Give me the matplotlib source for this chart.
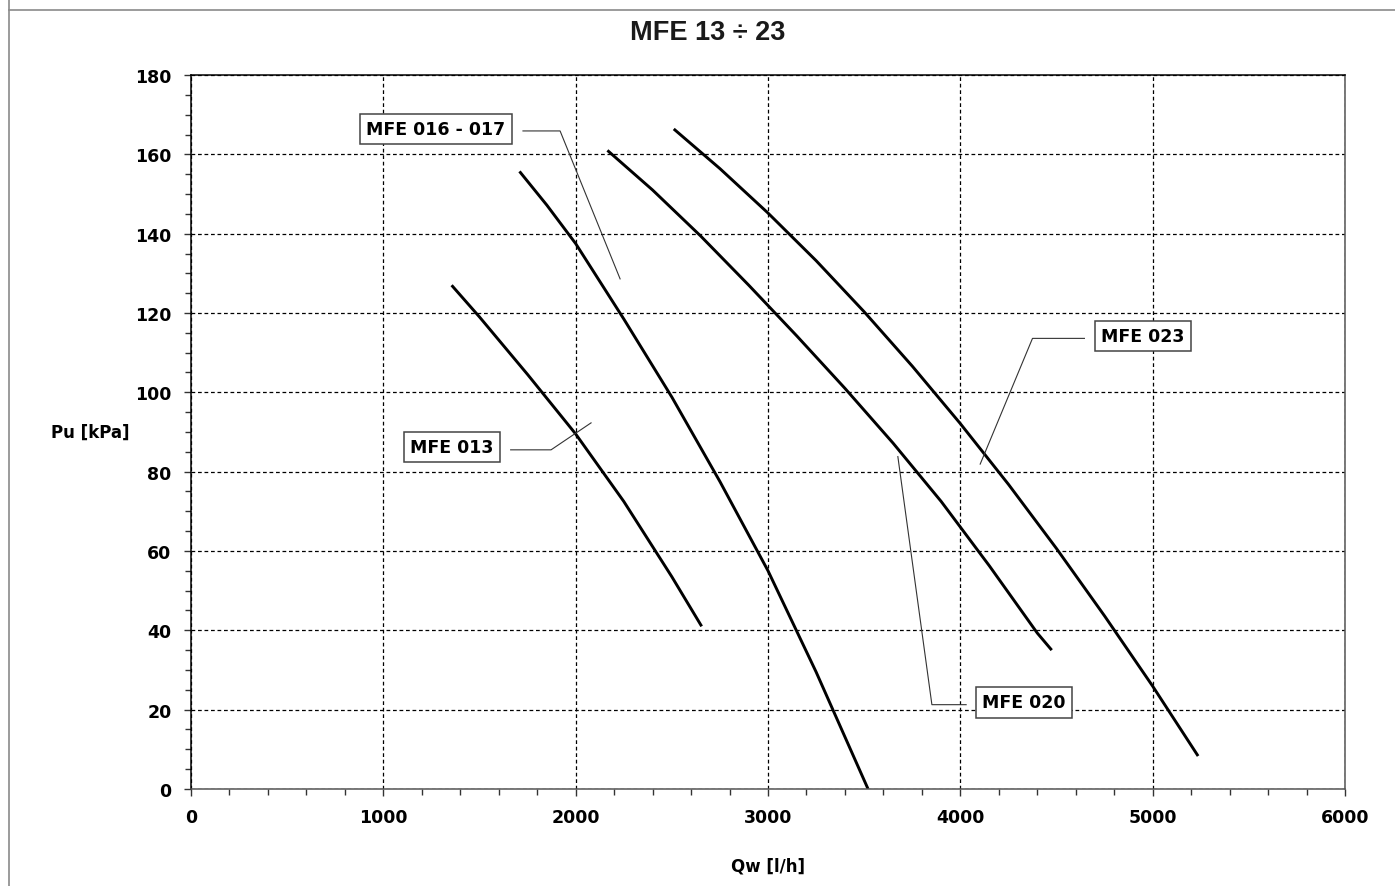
import matplotlib
matplotlib.use("Agg")
import matplotlib.pyplot as plt
from matplotlib.lines import Line2D
from matplotlib.ticker import MultipleLocator

# curves (Qw [l/h], Pu [kPa])
mfe013_q = [1355, 1500, 1750, 2000, 2250, 2500, 2655]
mfe013_p = [127, 119, 104.5, 89.5, 72.5, 53.5, 41]

mfe016_q = [1708, 1850, 2000, 2250, 2500, 2750, 3000, 3250, 3520]
mfe016_p = [155.7, 147.2, 137.5, 118.5, 98.8, 77.5, 55, 29.5, 0]

mfe020_q = [2165, 2400, 2650, 2900, 3150, 3400, 3650, 3900, 4150, 4400, 4475]
mfe020_p = [161, 151, 139.4, 127, 114.2, 101, 87.2, 72.5, 56.3, 39.3, 35]

mfe023_q = [2510, 2750, 3000, 3250, 3500, 3750, 4000, 4250, 4500, 4750, 5000, 5236]
mfe023_p = [166.4, 156.4, 145.2, 133.2, 120.3, 106.6, 92.1, 76.8, 60.6, 43.6, 25.9, 8.3]

x_ticks = [0, 1000, 2000, 3000, 4000, 5000, 6000]
y_ticks = [0, 20, 40, 60, 80, 100, 120, 140, 160, 180]

BOLD = dict(family="DejaVu Sans", fontweight="bold")

fig = plt.figure(figsize=(13.95, 8.87), dpi=100)
ax = fig.add_axes([0.1369, 0.1094, 0.8273, 0.8049])

for q, p in [(mfe013_q, mfe013_p), (mfe016_q, mfe016_p),
             (mfe020_q, mfe020_p), (mfe023_q, mfe023_p)]:
    ax.plot(q, p, color="black", linewidth=2.1, solid_capstyle="butt",
            solid_joinstyle="round")

ax.set_xlim(0, 6000)
ax.set_ylim(0, 180)
ax.set_xticks(x_ticks)
ax.set_yticks(y_ticks)
ax.xaxis.set_minor_locator(MultipleLocator(200))
ax.yaxis.set_minor_locator(MultipleLocator(5))
ax.tick_params(which="both", direction="out", color="#333333", width=1.0)
ax.tick_params(which="major", length=5, labelsize=12.5, pad=9)
ax.tick_params(which="minor", length=4)
for lbl in ax.get_xticklabels() + ax.get_yticklabels():
    lbl.set_fontweight("bold")

ax.grid(True, which="major", color="black", linewidth=0.9,
        linestyle=(0, (3, 2.2)))

for side, col in [("left", "black"), ("top", "black"),
                  ("bottom", "#555555"), ("right", "#555555")]:
    ax.spines[side].set_color(col)
    ax.spines[side].set_linewidth(1.1)

ax.set_xlabel("Qw [l/h]", fontsize=12, **BOLD)
ax.xaxis.set_label_coords(0.5, -0.094)
ax.set_ylabel("Pu [kPa]", fontsize=12, rotation=0, ha="center", va="center", **BOLD)
ax.yaxis.set_label_coords(-0.0875, 0.5)

fig.text(708 / 1395, 1 - 33 / 887, "MFE 13 \u00f7 23", ha="center", va="center",
         fontsize=19.5, fontweight="bold",
         family=["Liberation Sans Narrow", "Liberation Sans", "DejaVu Sans"],
         color="#1a1a1a")

# labels with leader lines
labels = [
    ("MFE 016 - 017", (1274, 166.4), [(1726, 165.9), (1919, 165.9), (2231, 128.6)]),
    ("MFE 013", (1357, 86.3), [(1662, 85.5), (1872, 85.5), (2080, 92.3)]),
    ("MFE 023", (4950, 114.2), [(4645, 113.6), (4375, 113.6), (4103, 81.9)]),
    ("MFE 020", (4332, 21.8), [(4030, 21.25), (3852, 21.25), (3675, 83.8)]),
]
for text, (tx, ty), leader in labels:
    ax.text(tx, ty, text, ha="center", va="center", fontsize=12.5, **BOLD,
            bbox=dict(boxstyle="square,pad=0.35", facecolor="white",
                      edgecolor="#444444", linewidth=1.1), zorder=5)
    lx = [pt[0] for pt in leader]
    ly = [pt[1] for pt in leader]
    ax.plot(lx, ly, color="#333333", linewidth=0.8, zorder=4)

# outer frame lines
fig.add_artist(Line2D([8.5 / 1395, 8.5 / 1395], [0, 1], color="#8a8a8a",
                      linewidth=1.2, transform=fig.transFigure))
fig.add_artist(Line2D([8.5 / 1395, 1], [1 - 11 / 887, 1 - 11 / 887], color="#8a8a8a",
                      linewidth=1.2, transform=fig.transFigure))

fig.savefig("out.png", dpi=100, facecolor="white")
